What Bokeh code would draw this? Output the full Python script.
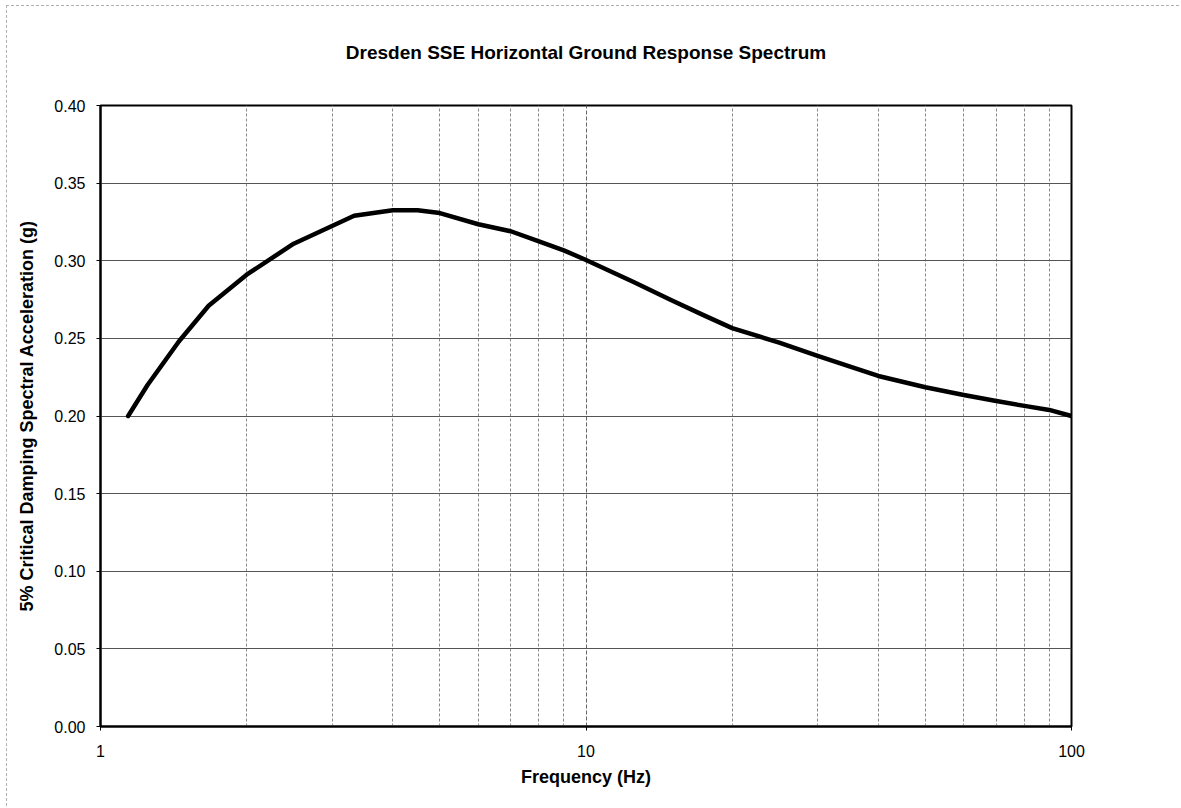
from bokeh.plotting import figure
from bokeh.models import FixedTicker, NumeralTickFormatter, Range1d, Title
from bokeh.embed import file_html
from bokeh.resources import INLINE

# ---- data ----
freq_hz = [1.14, 1.25, 1.45, 1.67, 2.0, 2.5, 3.33, 4.0, 4.5, 5.0, 6.0, 7.0, 8.0, 9.0,
           10.0, 12.5, 15.0, 17.5, 20.0, 25.0, 30.0, 35.0, 40.0, 50.0, 60.0, 70.0,
           80.0, 90.0, 100.0]
sa_g = [0.200, 0.220, 0.248, 0.271, 0.291, 0.311, 0.329, 0.3325, 0.3325, 0.3307,
        0.3235, 0.319, 0.3125, 0.3067, 0.3005, 0.2865, 0.2745, 0.2648, 0.2566,
        0.2473, 0.2388, 0.2318, 0.2258, 0.2185, 0.2135, 0.2097, 0.2065, 0.2039, 0.200]

x_major_ticks = [1, 10, 100]
x_minor_ticks = [2, 3, 4, 5, 6, 7, 8, 9, 20, 30, 40, 50, 60, 70, 80, 90]
y_ticks = [0.0, 0.05, 0.10, 0.15, 0.20, 0.25, 0.30, 0.35, 0.40]

title_text = "Dresden SSE Horizontal Ground Response Spectrum"
x_label = "Frequency (Hz)"
y_label = "5% Critical Damping Spectral Acceleration (g)"

FONT = "Liberation Sans"

p = figure(width=1173, height=801, x_axis_type="log", title=None,
           x_range=Range1d(1, 100), y_range=Range1d(0, 0.4),
           output_backend="svg", toolbar_location=None,
           min_border_left=93, min_border_right=109,
           min_border_top=99, min_border_bottom=81,
           background_fill_color="white", border_fill_color="white")

p.margin = (5, 0, 0, 6)
p.styles = {"border-left": "1px dashed #b0b0b0", "border-top": "1px dashed #b0b0b0"}

# spacer between frame and title (stacked nearest to the frame), then the title
spacer = Title(text=" ", text_font=FONT, text_font_size="10px", standoff=30, align="center")
p.add_layout(spacer, "above")
main_title = Title(text=title_text, align="center", text_font=FONT, text_font_size="19px",
                   text_font_style="bold", text_color="black", standoff=0)
p.add_layout(main_title, "above")

p.line(freq_hz, sa_g, line_color="black", line_width=4.5, line_join="round", line_cap="round")

ticker_x = FixedTicker(ticks=x_major_ticks, minor_ticks=x_minor_ticks)
ticker_y = FixedTicker(ticks=y_ticks)

p.xaxis.ticker = ticker_x
p.xaxis.formatter = NumeralTickFormatter(format="0")
p.yaxis.ticker = ticker_y
p.yaxis.formatter = NumeralTickFormatter(format="0.00")

for ax in (p.xaxis[0], p.yaxis[0]):
    ax.axis_line_color = "black"
    ax.axis_line_width = 2
    ax.major_tick_line_color = "black"
    ax.major_tick_out = 4
    ax.major_tick_in = 0
    ax.minor_tick_out = 0
    ax.minor_tick_in = 0
    ax.major_label_text_font = FONT
    ax.major_label_text_font_size = "16px"
    ax.major_label_text_color = "black"
    ax.axis_label_text_font = FONT
    ax.axis_label_text_font_size = "18px"
    ax.axis_label_text_font_style = "bold"
    ax.axis_label_text_color = "black"

p.xaxis.axis_label = x_label
p.yaxis.axis_label = y_label
p.xaxis.major_label_standoff = 14
p.xaxis.axis_label_standoff = 7
p.yaxis.major_label_standoff = 11
p.yaxis.axis_label_standoff = 14

p.xgrid.ticker = ticker_x
p.xgrid.grid_line_color = "#666666"
p.xgrid.grid_line_width = 1
p.xgrid.grid_line_dash = "4 2"
p.xgrid.minor_grid_line_color = "#8a8a8a"
p.xgrid.minor_grid_line_width = 1
p.xgrid.minor_grid_line_dash = "3 2"

p.ygrid.ticker = ticker_y
p.ygrid.grid_line_color = "#555555"
p.ygrid.grid_line_width = 1

p.outline_line_color = "black"
p.outline_line_width = 2
p.outline_line_alpha = 1

open("out.html", "w").write(file_html(p, INLINE))
